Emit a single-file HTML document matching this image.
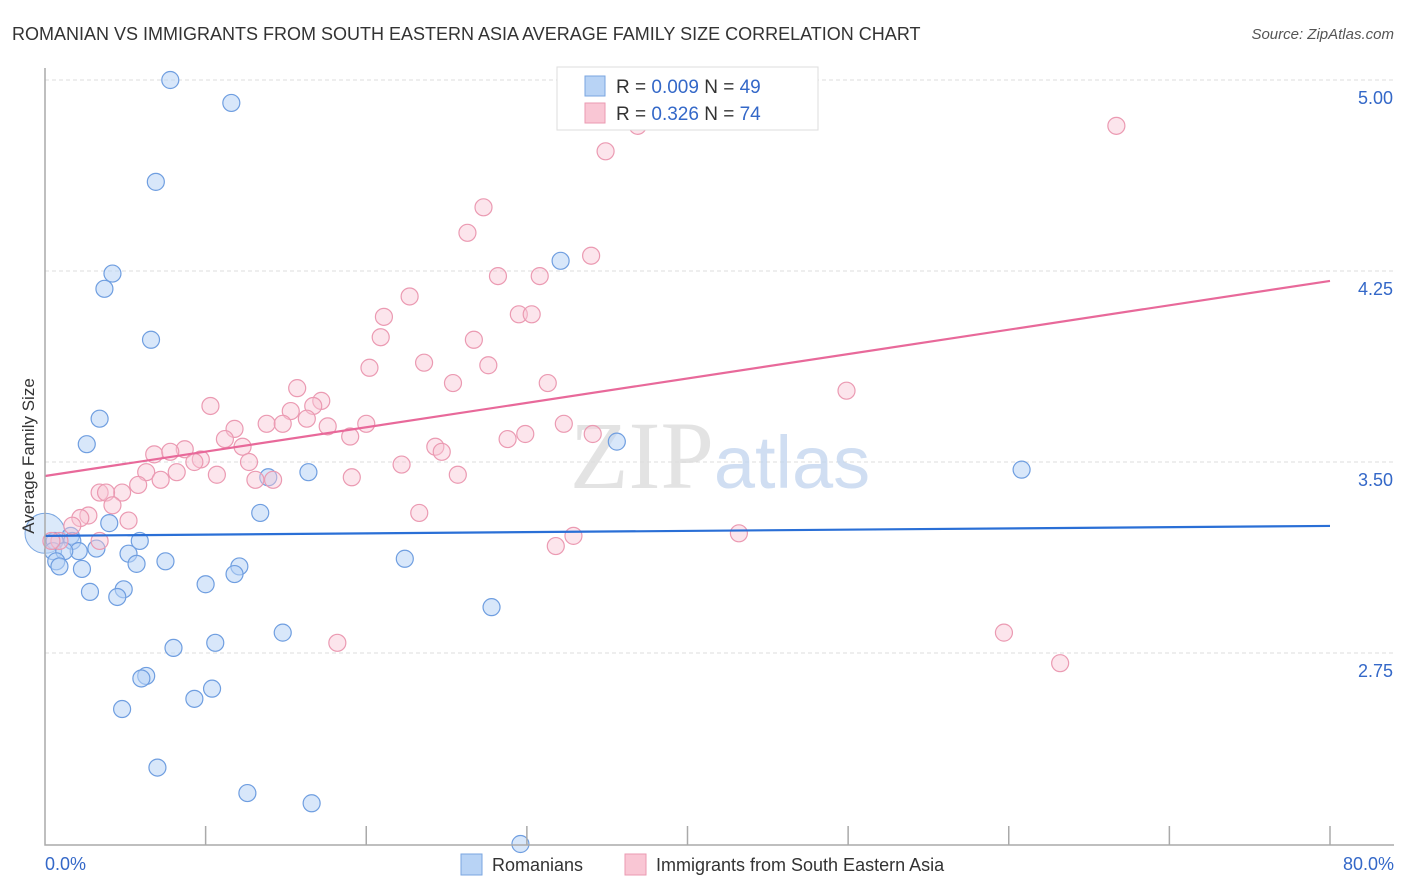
<!DOCTYPE html>
<html><head><meta charset="utf-8"><style>
body{margin:0;background:#fff;font-family:"Liberation Sans",sans-serif;}
svg{display:block}
</style></head><body>
<svg id="chart" width="1406" height="892" xmlns="http://www.w3.org/2000/svg" font-family="Liberation Sans, sans-serif">
<text x="12" y="40" font-size="18" fill="#333">ROMANIAN VS IMMIGRANTS FROM SOUTH EASTERN ASIA AVERAGE FAMILY SIZE CORRELATION CHART</text>
<text x="1394" y="39" font-size="15" fill="#555" text-anchor="end" font-style="italic">Source: ZipAtlas.com</text>
<g id="grid"></g>
<text x="720" y="488" font-size="96" text-anchor="middle" fill="#ddd" font-family="Liberation Serif, serif" opacity="0.8">ZIP<tspan fill="#c5d7ef" font-family="Liberation Sans, sans-serif" font-size="74">atlas</tspan></text>
<g id="marks"></g>
<g id="axes"></g>
<text transform="translate(34,456) rotate(-90)" font-size="17" fill="#333" text-anchor="middle">Average Family Size</text>
<g>
<rect x="557" y="67" width="261" height="63" fill="#fff" stroke="#ddd"/>
<rect x="585" y="76" width="20" height="20" fill="#b8d3f5" stroke="#7aa6e0"/>
<rect x="585" y="103" width="20" height="20" fill="#f9c6d4" stroke="#eb9ab2"/>
<text x="616" y="93" font-size="19" fill="#333">R = <tspan fill="#3468c8">0.009</tspan>   N = <tspan fill="#3468c8">49</tspan></text>
<text x="616" y="120" font-size="19" fill="#333">R =  <tspan fill="#3468c8">0.326</tspan>   N =  <tspan fill="#3468c8">74</tspan></text>
</g>
<g>
<rect x="461" y="854" width="21" height="21" fill="#b8d3f5" stroke="#7aa6e0"/>
<text x="492" y="871" font-size="18" fill="#333">Romanians</text>
<rect x="625" y="854" width="21" height="21" fill="#f9c6d4" stroke="#eb9ab2"/>
<text x="656" y="871" font-size="18" fill="#333">Immigrants from South Eastern Asia</text>
</g>
</svg>
<script>
const blueX=[7.8,11.6,6.9,4.2,3.7,6.6,3.4,2.6,32.1,35.6,16.4,13.9,60.8,13.4,4.0,0.6,1.6,1.7,5.9,0.5,2.1,3.2,1.2,5.2,0.7,0.9,2.3,5.7,7.5,12.1,11.8,22.4,2.8,4.9,4.5,10.0,27.8,14.8,10.6,8.0,6.3,6.0,10.4,9.3,4.8,7.0,12.6,16.6,29.6];
const blueY=[5.00,4.91,4.60,4.24,4.18,3.98,3.67,3.57,4.29,3.58,3.46,3.44,3.47,3.30,3.26,3.19,3.21,3.19,3.19,3.15,3.15,3.16,3.15,3.14,3.11,3.09,3.08,3.10,3.11,3.09,3.06,3.12,2.99,3.00,2.97,3.02,2.93,2.83,2.79,2.77,2.66,2.65,2.61,2.57,2.53,2.30,2.20,2.16,2.00];
const pinkX=[36.9,34.9,66.7,27.3,26.3,34.0,28.2,30.8,22.7,21.1,29.5,30.3,20.9,26.7,23.6,20.2,27.6,15.7,25.4,31.3,49.9,10.3,17.2,16.7,15.3,11.8,16.3,13.8,14.8,17.6,20.0,32.3,11.2,19.0,34.1,29.9,28.8,8.7,6.8,7.8,12.3,24.3,24.7,9.7,9.3,12.7,22.2,6.3,8.2,10.7,25.7,19.1,13.1,14.2,7.2,5.8,3.4,4.8,3.8,4.2,2.7,2.2,5.2,1.7,23.3,0.9,0.4,3.4,43.2,32.9,31.8,59.7,18.2,63.2];
const pinkY=[4.82,4.72,4.82,4.50,4.40,4.31,4.23,4.23,4.15,4.07,4.08,4.08,3.99,3.98,3.89,3.87,3.88,3.79,3.81,3.81,3.78,3.72,3.74,3.72,3.70,3.63,3.67,3.65,3.65,3.64,3.65,3.65,3.59,3.60,3.61,3.61,3.59,3.55,3.53,3.54,3.56,3.56,3.54,3.51,3.50,3.50,3.49,3.46,3.46,3.45,3.45,3.44,3.43,3.43,3.43,3.41,3.38,3.38,3.38,3.33,3.29,3.28,3.27,3.25,3.30,3.19,3.19,3.19,3.22,3.21,3.17,2.83,2.79,2.71];
const yTicks=[5.00,4.25,3.50,2.75];
const yTickLabels=["5.00","4.25","3.50","2.75"];
const xTicks=[0,10,20,30,40,50,60,70,80];
const xTickLabels=["0.0%","80.0%"];
const blueTrend=[3.210,3.249];
const pinkTrend=[3.445,4.211];
const NS="http://www.w3.org/2000/svg";
const X0=45,X1=1330,YT=80,YB=845;
const sx=v=>X0+(v/80)*(X1-X0);
const sy=v=>YT+(5-v)*(191/0.75);
function mk(tag,attrs,parent){const e=document.createElementNS(NS,tag);for(const k in attrs)e.setAttribute(k,attrs[k]);parent.appendChild(e);return e;}
const grid=document.getElementById('grid'),marks=document.getElementById('marks'),axes=document.getElementById('axes');
yTicks.forEach((t,i)=>{
 const l=mk('line',{x1:X0,x2:1394,y1:sy(t),y2:sy(t),stroke:'#ddd','stroke-dasharray':'4,3'},grid);
 
 
 const tx=mk('text',{x:1393,y:sy(t)+24,'font-size':18,fill:'#3468c8','text-anchor':'end'},axes);
 tx.textContent=yTickLabels[i];
 
 
});
const ax=mk('path',{d:`M${X0},68V${YB}H1394`,stroke:'#aaa',fill:'none','stroke-width':1.5},axes);


xTicks.forEach(t=>{if(t===0)return;
 const l=mk('line',{x1:sx(t),x2:sx(t),y1:YB-19,y2:YB,stroke:'#aaa','stroke-width':1.5},axes);
 
 
});
[[0,'start',45],[80,'end',1394]].forEach((p,i)=>{
 const tx=mk('text',{x:p[2],y:870,'font-size':18,fill:'#3468c8','text-anchor':p[1]},axes);
 tx.textContent=xTickLabels[i];
 
 
});
const big=mk('circle',{cx:sx(0),cy:sy(3.22),r:20,fill:'rgba(184,211,245,0.5)',stroke:'#7aa6e0'},marks);


blueX.forEach((v,i)=>{
 const c=mk('circle',{cx:sx(v),cy:sy(blueY[i]),r:8.5,fill:'rgba(184,211,245,0.55)',stroke:'#6f9ee0','stroke-width':1.2},marks);
 
 
});
pinkX.forEach((v,i)=>{
 const c=mk('circle',{cx:sx(v),cy:sy(pinkY[i]),r:8.5,fill:'rgba(249,198,212,0.45)',stroke:'#eb9ab2','stroke-width':1.2},marks);
 
 
});
const bl=mk('line',{x1:sx(0),x2:sx(80),y1:sy(blueTrend[0]),y2:sy(blueTrend[1]),stroke:'#2a6fd6','stroke-width':2.2},marks);


const pl=mk('line',{x1:sx(0),x2:sx(80),y1:sy(pinkTrend[0]),y2:sy(pinkTrend[1]),stroke:'#e8699a','stroke-width':2.2},marks);


</script>
</body></html>
